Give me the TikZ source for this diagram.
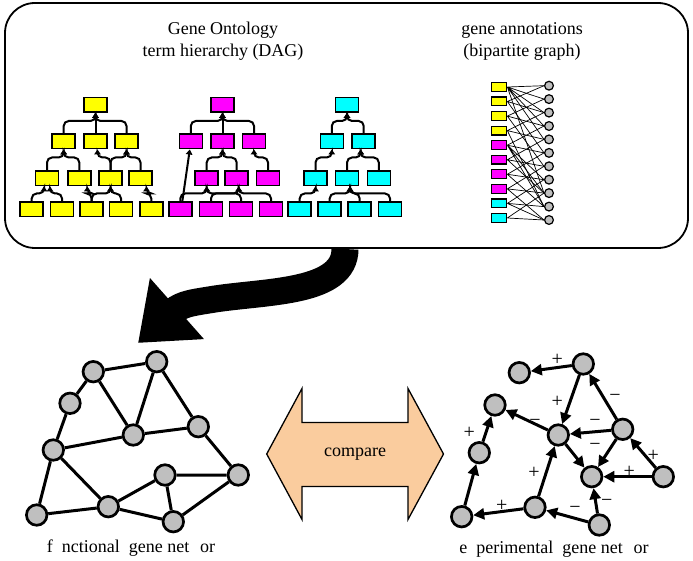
\documentclass[tikz,border=0pt]{standalone}
\usepackage{fontspec}
\setmainfont{Liberation Serif}
\usetikzlibrary{arrows.meta}
\definecolor{peach}{RGB}{250,204,158}
\definecolor{goyel}{RGB}{255,255,0}
\definecolor{gomag}{RGB}{255,0,255}
\definecolor{gocya}{RGB}{0,255,255}

\begin{document}
\begin{tikzpicture}
  [x=1pt, y=-1pt,
   every node/.style={inner sep=0pt},
   term/.style={draw, line width=1.5pt, minimum width=23pt, minimum height=14.5pt},
   yel/.style={term, fill=goyel},
   mag/.style={term, fill=gomag},
   cya/.style={term, fill=gocya},
   isa/.style={line width=2pt, rounded corners=5pt, -{Triangle[length=5pt,width=6.5pt]}},
   ann/.style={draw, line width=1.2pt, minimum width=15.5pt, minimum height=8.8pt},
   gene/.style={draw, circle, fill=black!25, line width=1.2pt, minimum size=8.8pt},
   link/.style={line width=0.7pt},
   big/.style={draw, circle, fill=black!25, line width=2.7pt, minimum size=20.5pt},
   tie/.style={line width=3pt},
   reg/.style={line width=3pt, -{Triangle[length=11pt,width=11pt]}},
   sign/.style={font=\fontsize{20}{20}\selectfont},
   label/.style={align=center, font=\fontsize{18}{22}\selectfont}]
  \useasboundingbox (0,0) rectangle (693,561);

  \draw[line width=27pt, -{Triangle[length=52pt,width=78pt]}]
    (345,249) .. controls (345,293) and (268,291) .. (215,299)
    .. controls (197,302) and (186,303) .. (177,308.5) -- (138,343);
  \draw[line width=1.8pt, rounded corners=30pt, fill=white] (5,3) rectangle (688,248);

  \node[label] (onto) at (223,41) {Gene Ontology\\term hierarchy (DAG)};
  \node[label] (bip) at (522,41) {gene annotations\\(bipartite graph)};

  \node[yel] (y1) at (95.5,105) {};
  \node[yel] (y21) at (63.7,141.5) {};
  \node[yel] (y22) at (95.5,141.5) {};
  \node[yel] (y23) at (126.5,141.5) {};
  \node[yel] (y31) at (47,178.5) {};
  \node[yel] (y32) at (79.3,178.5) {};
  \node[yel] (y33) at (110.5,178.5) {};
  \node[yel] (y34) at (140.5,178.5) {};
  \node[yel] (y41) at (31.7,209.5) {};
  \node[yel] (y42) at (62,209.5) {};
  \node[yel] (y43) at (91.7,209.5) {};
  \node[yel] (y44) at (121,209.5) {};
  \node[yel] (y45) at (151.3,209.5) {};
  \draw[isa] (y21.north) |- ([yshift=-8pt]y1.south) -- (y1.south);
  \draw[isa] (y22.north) -- (y1.south);
  \draw[isa] (y23.north) |- ([yshift=-8pt]y1.south) -- (y1.south);
  \draw[isa] (y31.north) |- ([yshift=-8pt]y21.south) -- (y21.south);
  \draw[isa] (y32.north) |- ([yshift=-8pt]y21.south) -- (y21.south);
  \draw[isa] (y33.north) |- ([xshift=2pt,yshift=-8pt]y22.south) -- ([xshift=2pt]y22.south);
  \draw[isa] (y33.north) |- ([yshift=-8pt]y23.south) -- (y23.south);
  \draw[isa] (y34.north) |- ([yshift=-8pt]y23.south) -- (y23.south);
  \draw[isa] (y41.north) |- ([xshift=-3pt,yshift=-7pt]y31.south) -- ([xshift=-3pt]y31.south);
  \draw[isa] (y42.north) |- ([xshift=3pt,yshift=-7pt]y31.south) -- ([xshift=3pt]y31.south);
  \draw[isa] (y43.north) |- ([xshift=8pt,yshift=-7pt]y32.south) -- ([xshift=8pt]y32.south);
  \draw[isa] (y43.north) |- ([yshift=-7pt]y33.south) -- (y33.south);
  \draw[isa] (y44.north) |- ([yshift=-7pt]y33.south) -- (y33.south);
  \draw[isa] (y45.north) |- ([xshift=6pt,yshift=-7pt]y34.south) -- ([xshift=6pt]y34.south);

  \node[mag] (m1) at (222.5,105) {};
  \node[mag] (m21) at (190.8,141.5) {};
  \node[mag] (m22) at (222.5,141.5) {};
  \node[mag] (m23) at (254,141.5) {};
  \node[mag] (m31) at (206.7,178.5) {};
  \node[mag] (m32) at (236.7,178.5) {};
  \node[mag] (m33) at (268,178.5) {};
  \node[mag] (m41) at (180.3,209.5) {};
  \node[mag] (m42) at (211,209.5) {};
  \node[mag] (m43) at (241,209.5) {};
  \node[mag] (m44) at (271,209.5) {};
  \draw[isa] (m21.north) |- ([yshift=-8pt]m1.south) -- (m1.south);
  \draw[isa] (m22.north) -- (m1.south);
  \draw[isa] (m23.north) |- ([yshift=-8pt]m1.south) -- (m1.south);
  \draw[isa] ([xshift=2pt]m41.north) -- ([xshift=-1pt]m21.south);
  \draw[isa] (m31.north) |- ([yshift=-8pt]m22.south) -- (m22.south);
  \draw[isa] (m32.north) |- ([yshift=-8pt]m22.south) -- (m22.south);
  \draw[isa] (m33.north) |- ([yshift=-8pt]m23.south) -- (m23.south);
  \draw[isa] (m41.north) |- ([yshift=-7pt]m31.south) -- (m31.south);
  \draw[isa] (m43.north) |- ([yshift=-7pt]m31.south) -- (m31.south);
  \draw[isa] (m42.north) |- ([xshift=2pt,yshift=-7pt]m32.south) -- ([xshift=2pt]m32.south);
  \draw[isa] (m44.north) |- ([xshift=2pt,yshift=-7pt]m32.south) -- ([xshift=2pt]m32.south);

  \node[cya] (c1) at (347,105) {};
  \node[cya] (c21) at (331.8,141.5) {};
  \node[cya] (c22) at (363.7,141.5) {};
  \node[cya] (c31) at (315.5,178.5) {};
  \node[cya] (c32) at (347,178.5) {};
  \node[cya] (c33) at (378.8,178.5) {};
  \node[cya] (c41) at (299.7,209.5) {};
  \node[cya] (c42) at (329.7,209.5) {};
  \node[cya] (c43) at (359.7,209.5) {};
  \node[cya] (c44) at (390,209.5) {};
  \draw[isa] (c21.north) |- ([yshift=-8pt]c1.south) -- (c1.south);
  \draw[isa] (c22.north) |- ([yshift=-8pt]c1.south) -- (c1.south);
  \draw[isa] (c31.north) |- ([yshift=-8pt]c21.south) -- (c21.south);
  \draw[isa] (c32.north) |- ([xshift=-3pt,yshift=-8pt]c22.south) -- ([xshift=-3pt]c22.south);
  \draw[isa] (c33.north) |- ([xshift=-3pt,yshift=-8pt]c22.south) -- ([xshift=-3pt]c22.south);
  \draw[isa] (c41.north) |- ([yshift=-7pt]c31.south) -- (c31.south);
  \draw[isa] (c42.north) |- ([xshift=3pt,yshift=-7pt]c32.south) -- ([xshift=3pt]c32.south);
  \draw[isa] (c43.north) |- ([xshift=3pt,yshift=-7pt]c32.south) -- ([xshift=3pt]c32.south);
  \draw[isa] (c44.north) |- ([xshift=3pt,yshift=-7pt]c32.south) -- ([xshift=3pt]c32.south);

  \node[ann, fill=goyel] (b1) at (499,87) {};
  \node[ann, fill=goyel] (b2) at (499,101.5) {};
  \node[ann, fill=goyel] (b3) at (499,116.1) {};
  \node[ann, fill=goyel] (b4) at (499,130.6) {};
  \node[ann, fill=gomag] (b5) at (499,145.2) {};
  \node[ann, fill=gomag] (b6) at (499,159.7) {};
  \node[ann, fill=gomag] (b7) at (499,174.3) {};
  \node[ann, fill=gomag] (b8) at (499,188.9) {};
  \node[ann, fill=gocya] (b9) at (499,203.4) {};
  \node[ann, fill=gocya] (b10) at (499,218) {};
  \node[gene] (a1) at (549,85.7) {};
  \node[gene] (a2) at (549,99.1) {};
  \node[gene] (a3) at (549,112.6) {};
  \node[gene] (a4) at (549,126) {};
  \node[gene] (a5) at (549,139.4) {};
  \node[gene] (a6) at (549,152.9) {};
  \node[gene] (a7) at (549,166.3) {};
  \node[gene] (a8) at (549,179.7) {};
  \node[gene] (a9) at (549,193.1) {};
  \node[gene] (a10) at (549,206.6) {};
  \node[gene] (a11) at (549,220) {};
  \draw[link] (b1.east) -- (a1.west) (b1.east) -- (a2.west) (b1.east) -- (a3.west)
    (b1.east) -- (a4.west) (b1.east) -- (a5.west) (b1.east) -- (a9.west);
  \draw[link] (b2.east) -- (a1.west) (b2.east) -- (a3.west) (b2.east) -- (a6.west);
  \draw[link] (b3.east) -- (a2.west) (b3.east) -- (a4.west) (b3.east) -- (a7.west);
  \draw[link] (b4.east) -- (a3.west) (b4.east) -- (a5.west) (b4.east) -- (a10.west);
  \draw[link] (b5.east) -- (a4.west) (b5.east) -- (a6.west) (b5.east) -- (a8.west)
    (b5.east) -- (a9.west) (b5.east) -- (a10.west);
  \draw[link] (b6.east) -- (a5.west) (b6.east) -- (a7.west) (b6.east) -- (a9.west);
  \draw[link] (b7.east) -- (a6.west) (b7.east) -- (a8.west) (b7.east) -- (a10.west);
  \draw[link] (b8.east) -- (a7.west) (b8.east) -- (a9.west) (b8.east) -- (a11.west);
  \draw[link] (b9.east) -- (a8.west) (b9.east) -- (a10.west) (b9.east) -- (a11.west);
  \draw[link] (b10.east) -- (a9.west) (b10.east) -- (a11.west);

  \node[big] (f1) at (156.7,361.7) {};
  \node[big] (f2) at (93.3,371.7) {};
  \node[big] (f3) at (70,403.3) {};
  \node[big] (f4) at (53.3,450) {};
  \node[big] (f5) at (133.3,435) {};
  \node[big] (f6) at (198.3,426.7) {};
  \node[big] (f7) at (238.3,475) {};
  \node[big] (f8) at (165,475) {};
  \node[big] (f9) at (108.3,506.7) {};
  \node[big] (f10) at (36.7,515) {};
  \node[big] (f11) at (173.3,521.7) {};
  \draw[tie] (f2) -- (f1) (f1) -- (f5) (f1) -- (f6) (f2) -- (f5) (f2) -- (f3)
    (f3) -- (f4) (f4) -- (f5) (f5) -- (f6) (f6) -- (f7) (f4) -- (f10)
    (f4) -- (f9) (f10) -- (f9) (f9) -- (f8) (f8) -- (f7) (f8) -- (f11)
    (f9) -- (f11) (f11) -- (f7);
  \node[label] (fnet) at (131,548) {f\hspace{0.5em}nctional\ \ gene net\hspace{0.6em}or};

  \draw[line width=1.3pt, fill=peach] (266.7,454) -- (302,388.5) -- (302,422.5)
    -- (408,422.5) -- (408,388.5) -- (443.5,454) -- (408,519.5) -- (408,486.5)
    -- (302,486.5) -- (302,519.5) -- cycle;
  \node[label] (cmp) at (355,454) {compare};

  \node[big] (e1) at (583.3,364) {};
  \node[big] (e2) at (519.3,372.7) {};
  \node[big] (e3) at (495,405) {};
  \node[big] (e4) at (558.3,435) {};
  \node[big] (e5) at (622.7,429.3) {};
  \node[big] (e6) at (479.3,452.7) {};
  \node[big] (e7) at (591.7,476.7) {};
  \node[big] (e8) at (663.3,476.7) {};
  \node[big] (e9) at (535,507.3) {};
  \node[big] (e10) at (461.7,516.7) {};
  \node[big] (e11) at (599.3,525) {};
  \draw[reg] (e1) -- (e2);
  \draw[reg] (e1) -- (e4);
  \draw[reg] (e5) -- (e1);
  \draw[reg] (e4) -- (e3);
  \draw[reg] (e5) -- (e4);
  \draw[reg] (e5) -- (e7);
  \draw[reg] (e4) -- (e7);
  \draw[reg] (e8) -- (e5);
  \draw[reg] (e8) -- (e7);
  \draw[reg] (e11) -- (e7);
  \draw[reg] (e11) -- (e9);
  \draw[reg] (e9) -- (e4);
  \draw[reg] (e9) -- (e10);
  \draw[reg] (e10) -- (e6);
  \draw[reg] (e6) -- (e3);
  \node[sign] (s1) at (557.3,360) {+};
  \node[sign] (s2) at (557.3,401.7) {+};
  \node[sign] (s3) at (615,398.3) {−};
  \node[sign] (s4) at (535,423.3) {−};
  \node[sign] (s5) at (595,423.3) {−};
  \node[sign] (s6) at (595,447.3) {−};
  \node[sign] (s7) at (653.3,456) {+};
  \node[sign] (s8) at (629.3,471.7) {+};
  \node[sign] (s9) at (606.7,503.3) {−};
  \node[sign] (s10) at (575,510) {−};
  \node[sign] (s11) at (534,473.3) {+};
  \node[sign] (s12) at (501.7,506) {+};
  \node[sign] (s13) at (469.3,432.7) {+};
  \node[label] (enet) at (554,549) {e\hspace{0.5em}perimental\ \ gene net\hspace{0.6em}or};
\end{tikzpicture}
\end{document}
